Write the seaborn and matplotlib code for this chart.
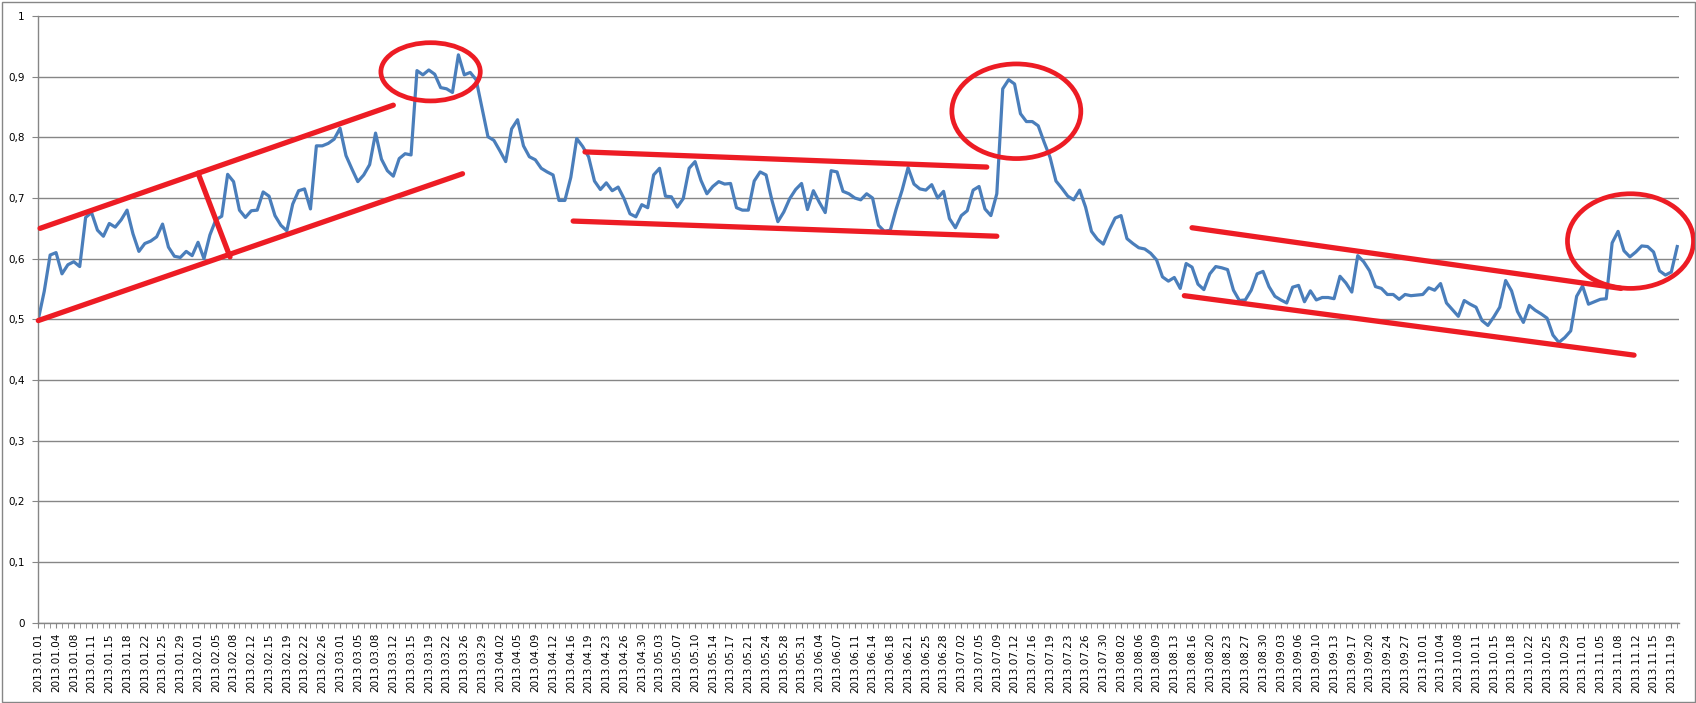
import pandas as pd
import seaborn as sns
import matplotlib.pyplot as plt
from matplotlib.patches import Ellipse, Rectangle

# trading days Mon-Sat, 2013.01.01 .. 2013.11.20
dates = pd.date_range("2013-01-01", "2013-11-20", freq="D")
dates = dates[dates.dayofweek != 6]

values = [
    0.500, 0.546, 0.606, 0.610, 0.575, 0.590, 0.595, 0.587, 0.668, 0.676,
    0.647, 0.637, 0.658, 0.652, 0.664, 0.680, 0.641, 0.612, 0.625, 0.629,
    0.636, 0.657, 0.619, 0.604, 0.602, 0.612, 0.605, 0.627, 0.600, 0.639,
    0.664, 0.670, 0.739, 0.727, 0.680, 0.668, 0.679, 0.680, 0.710, 0.703,
    0.671, 0.655, 0.646, 0.690, 0.712, 0.715, 0.682, 0.786, 0.786, 0.790,
    0.797, 0.815, 0.770, 0.748, 0.727, 0.738, 0.755, 0.807, 0.764, 0.745,
    0.736, 0.765, 0.773, 0.771, 0.910, 0.903, 0.911, 0.904, 0.882, 0.880,
    0.874, 0.936, 0.903, 0.907, 0.895, 0.848, 0.801, 0.795, 0.778, 0.760,
    0.814, 0.829, 0.786, 0.768, 0.763, 0.749, 0.743, 0.738, 0.696, 0.696,
    0.734, 0.798, 0.785, 0.768, 0.728, 0.714, 0.725, 0.712, 0.718, 0.699,
    0.674, 0.669, 0.689, 0.684, 0.738, 0.749, 0.703, 0.702, 0.685, 0.699,
    0.749, 0.760, 0.729, 0.707, 0.719, 0.727, 0.723, 0.724, 0.684, 0.680,
    0.680, 0.728, 0.743, 0.738, 0.696, 0.661, 0.677, 0.699, 0.714, 0.724,
    0.681, 0.712, 0.693, 0.676, 0.745, 0.743, 0.711, 0.707, 0.700, 0.697,
    0.707, 0.700, 0.655, 0.645, 0.647, 0.682, 0.713, 0.750, 0.723, 0.715,
    0.713, 0.722, 0.700, 0.711, 0.666, 0.651, 0.671, 0.679, 0.713, 0.719,
    0.682, 0.671, 0.707, 0.880, 0.895, 0.888, 0.839, 0.826, 0.826, 0.819,
    0.792, 0.767, 0.728, 0.716, 0.703, 0.697, 0.713, 0.685, 0.645, 0.632,
    0.624, 0.647, 0.667, 0.671, 0.633, 0.625, 0.618, 0.616, 0.609, 0.598,
    0.570, 0.563, 0.569, 0.551, 0.592, 0.586, 0.558, 0.549, 0.575, 0.587,
    0.585, 0.582, 0.548, 0.531, 0.532, 0.548, 0.575, 0.579, 0.554, 0.538,
    0.532, 0.527, 0.553, 0.556, 0.529, 0.547, 0.532, 0.536, 0.536, 0.534,
    0.571, 0.560, 0.545, 0.605, 0.595, 0.580, 0.554, 0.551, 0.541, 0.541,
    0.533, 0.541, 0.539, 0.540, 0.541, 0.552, 0.548, 0.559, 0.527, 0.516,
    0.505, 0.531, 0.525, 0.520, 0.498, 0.490, 0.504, 0.520, 0.564, 0.547,
    0.513, 0.495, 0.523, 0.515, 0.509, 0.502, 0.474, 0.462, 0.470, 0.481,
    0.538, 0.555, 0.525, 0.529, 0.533, 0.534, 0.626, 0.645, 0.613, 0.603,
    0.611, 0.621, 0.620, 0.611, 0.580, 0.573, 0.578, 0.620,
]

# hand drawn trend channels: (day index, value) -> (day index, value)
channel_lines = [
    ((0.3, 0.650), (60.0, 0.853)),
    ((0.0, 0.498), (71.7, 0.740)),
    ((27.0, 0.741), (32.4, 0.603)),
    ((92.4, 0.776), (160.3, 0.751)),
    ((90.4, 0.662), (162.0, 0.637)),
    ((195.0, 0.651), (267.5, 0.551)),
    ((193.7, 0.539), (269.7, 0.441)),
]
# circled spots: centre index, centre value, width (days), height (value)
circles = [
    (66.3, 0.908, 16.8, 0.096),
    (165.3, 0.843, 21.8, 0.156),
    (269.1, 0.629, 21.3, 0.156),
]

df = pd.DataFrame({"idx": range(len(values)), "val": values})
labels = [d.strftime("%Y.%m.%d") for d in dates]

grey = "#868686"
red = "#ED1C24"

fig = plt.figure(figsize=(16.96, 7.03), dpi=100)
ax = fig.add_axes([38.3 / 1696, 1 - 622.7 / 703, (1679 - 38.3) / 1696, (622.7 - 16) / 703])

sns.lineplot(data=df, x="idx", y="val", ax=ax, color="#4A7EBB", linewidth=2.3)

for (x0, y0), (x1, y1) in channel_lines:
    ax.plot([x0, x1], [y0, y1], color=red, linewidth=3.8, solid_capstyle="round",
            zorder=5, clip_on=False)
for cx, cy, w, h in circles:
    ax.add_patch(Ellipse((cx, cy), w, h, fill=False, edgecolor=red, linewidth=3.4,
                         zorder=5, clip_on=False))

ax.set_xlim(0, len(values) - 1 + 0.3)
ax.set_ylim(0, 1)
ax.set_xlabel("")
ax.set_ylabel("")

yt = [i / 10 for i in range(11)]
ax.set_yticks(yt)
ax.set_yticklabels([("%g" % v).replace(".", ",") for v in yt])
ax.set_xticks(range(0, len(values), 3))
ax.set_xticklabels(labels[::3], rotation=90)
ax.set_xticks(range(len(values)), minor=True)

ax.yaxis.grid(True, color=grey, linewidth=1.0)
ax.set_axisbelow(True)
for s in ["top", "right"]:
    ax.spines[s].set_visible(False)
for s in ["left", "bottom"]:
    ax.spines[s].set_color(grey)
    ax.spines[s].set_linewidth(1.0)

ax.tick_params(axis="y", length=4, color=grey, pad=6, labelsize=7.5, labelcolor="black")
ax.tick_params(axis="x", which="both", length=3.5, color=grey, pad=4, labelsize=7.5, labelcolor="black")

fig.patches.append(Rectangle((1.5 / 1696, 1.5 / 703), 1693 / 1696, 699.5 / 703, fill=False,
                             edgecolor=grey, linewidth=1, transform=fig.transFigure))

fig.savefig("out.png", dpi=100)
